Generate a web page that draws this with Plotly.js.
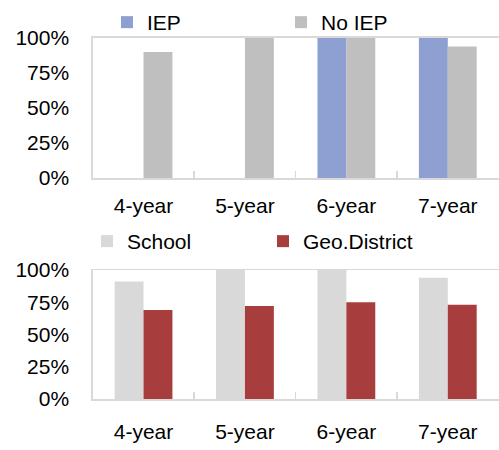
<!DOCTYPE html>
<html>
<head>
<meta charset="utf-8">
<script src="https://cdn.plot.ly/plotly-3.0.1.min.js"></script>
<style>html,body{margin:0;padding:0;background:#fff;}#chart{width:499px;height:450px;}</style>
</head>
<body>
<div id="chart"></div>
<script>
const categories = ["4-year", "5-year", "6-year", "7-year"];
const iepValues = [null, null, 100, 100];
const noIepValues = [90, 100, 100, 94];
const schoolValues = [91, 100, 100, 94];
const districtValues = [69, 72, 75, 73];
const yTickVals = [0, 25, 50, 75, 100];
const yTickText = ["0%", "25%", "50%", "75%", "100%"];

const fontFamily = "Liberation Sans, Arial, sans-serif";
const frameColor = "#d9d9d9";

const traces = [
  {type: "bar", name: "IEP", x: categories, y: iepValues, xaxis: "x", yaxis: "y",
   marker: {color: "#8ea0d1"}, legend: "legend"},
  {type: "bar", name: "No IEP", x: categories, y: noIepValues, xaxis: "x", yaxis: "y",
   marker: {color: "#bfbfbf"}, legend: "legend"},
  {type: "bar", name: "School", x: categories, y: schoolValues, xaxis: "x2", yaxis: "y2",
   marker: {color: "#d9d9d9"}, legend: "legend2"},
  {type: "bar", name: "Geo.District", x: categories, y: districtValues, xaxis: "x2", yaxis: "y2",
   marker: {color: "#a83d3d"}, legend: "legend2"}
];

function xAxis(anchor, standoff) {
  return {
    anchor: anchor, domain: [0.186, 0.999], type: "category",
    showline: true, mirror: true, linecolor: frameColor, linewidth: 1.5,
    ticks: "inside", tickson: "boundaries", ticklen: 7, tickcolor: frameColor, tickwidth: 1.5,
    showgrid: false, ticklabelstandoff: standoff,
    tickfont: {family: fontFamily, size: 21, color: "#000"}
  };
}
function yAxis(anchor, domain) {
  return {
    anchor: anchor, domain: domain, range: [0, 100],
    tickmode: "array", tickvals: yTickVals, ticktext: yTickText,
    showline: true, mirror: true, linecolor: frameColor, linewidth: 1.5,
    showgrid: false, zeroline: false, ticks: "", ticklabelstandoff: 18,
    tickfont: {family: fontFamily, size: 21, color: "#000"}
  };
}

const layout = {
  width: 499, height: 450,
  margin: {l: 0, r: 0, t: 0, b: 0},
  paper_bgcolor: "#fff", plot_bgcolor: "#fff",
  barmode: "group", bargap: 0.43, bargroupgap: 0,
  font: {family: fontFamily, size: 21, color: "#000"},
  xaxis: xAxis("y", 8),
  yaxis: yAxis("x", [0.6044, 0.9156]),
  xaxis2: xAxis("y2", 13),
  yaxis2: yAxis("x2", [0.1133, 0.4]),
  showlegend: true,
  legend: {orientation: "h", x: 107/499, xanchor: "left", y: 1 - 2/450, yanchor: "top",
           entrywidth: 129, entrywidthmode: "pixels", font: {family: fontFamily, size: 21},
           bgcolor: "rgba(0,0,0,0)", traceorder: "normal"},
  legend2: {orientation: "h", x: 87/499, xanchor: "left", y: 1 - 221/450, yanchor: "top",
           entrywidth: 131, entrywidthmode: "pixels", font: {family: fontFamily, size: 21},
           bgcolor: "rgba(0,0,0,0)", traceorder: "normal"}
};

Plotly.newPlot("chart", traces, layout, {displayModeBar: false, staticPlot: true});
</script>
</body>
</html>
